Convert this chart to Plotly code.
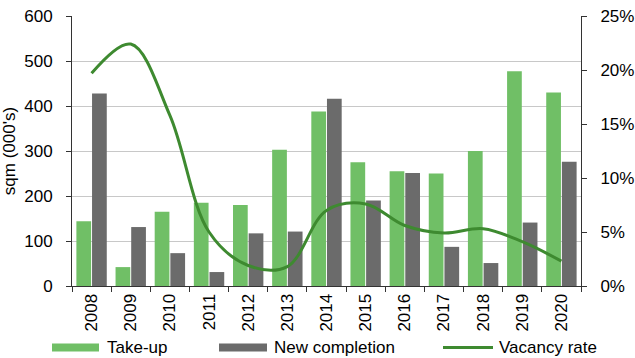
import plotly.graph_objects as go

years = ["2008", "2009", "2010", "2011", "2012", "2013", "2014",
         "2015", "2016", "2017", "2018", "2019", "2020"]
take_up = [144, 42, 165, 185, 180, 303, 388, 275, 255, 250, 300, 477, 430]
new_completion = [428, 131, 73, 31, 117, 121, 416, 190, 251, 87, 51, 141, 276]
vacancy_rate = [0.197, 0.224, 0.158, 0.050, 0.019, 0.018, 0.070, 0.076,
                0.056, 0.049, 0.053, 0.041, 0.023]

GREEN_BAR = "#70BF66"
GREY_BAR = "#6B6B6B"
GREEN_LINE = "#3E8A30"
FONT = "Liberation Sans, Arial, sans-serif"

W, H = 635, 358
L, R, T, B = 72, 54, 16, 72
PW, PH = W - L - R, H - T - B


def px_x(px):
    return (px - L) / PW


def px_y(py):
    return (H - B - py) / PH


fig = go.Figure()

fig.add_trace(go.Bar(x=years, y=take_up, name="Take-up",
                     marker=dict(color=GREEN_BAR, line=dict(width=0))))
fig.add_trace(go.Bar(x=years, y=new_completion, name="New completion",
                     marker=dict(color=GREY_BAR, line=dict(width=0))))
fig.add_trace(go.Scatter(x=years, y=vacancy_rate, name="Vacancy rate",
                         yaxis="y2", mode="lines",
                         line=dict(color=GREEN_LINE, width=3,
                                   shape="spline", smoothing=1.0)))

# legend row beneath the axis: wide swatches followed by labels
legend_items = [
    ("Take-up", GREEN_BAR, "bar", 52, 99, 105),
    ("New completion", GREY_BAR, "bar", 219, 267, 272),
    ("Vacancy rate", GREEN_LINE, "line", 443, 493, 497),
]
ly = 347.5
for label, color, kind, x0, x1, tx in legend_items:
    if kind == "bar":
        fig.add_shape(type="rect", xref="paper", yref="paper",
                      x0=px_x(x0), x1=px_x(x1),
                      y0=px_y(ly + 4), y1=px_y(ly - 4),
                      fillcolor=color, line=dict(width=0))
    else:
        fig.add_shape(type="line", xref="paper", yref="paper",
                      x0=px_x(x0), x1=px_x(x1), y0=px_y(ly), y1=px_y(ly),
                      line=dict(color=color, width=3))
    fig.add_annotation(text=label, xref="paper", yref="paper",
                       x=px_x(tx), y=px_y(ly), xanchor="left",
                       yanchor="middle", showarrow=False,
                       font=dict(size=17, color="black"))

fig.update_layout(
    width=W, height=H,
    margin=dict(l=L, r=R, t=T, b=B),
    paper_bgcolor="white", plot_bgcolor="white",
    font=dict(family=FONT, size=17, color="black"),
    showlegend=False,
    barmode="group", bargap=0.2, bargroupgap=0.06,
    xaxis=dict(type="category", automargin=False, showline=True,
               linecolor="#333333", linewidth=1, ticks="outside",
               tickson="boundaries", ticklen=5, tickcolor="#333333",
               tickangle=-90, showgrid=False, tickfont=dict(size=17)),
    yaxis=dict(range=[0, 600], dtick=100, automargin=False, showline=True,
               linecolor="#333333", linewidth=1, ticks="outside",
               ticklen=5, tickcolor="#333333", ticklabelstandoff=10,
               showgrid=True, gridcolor="#C8C8C8", gridwidth=1,
               zeroline=False,
               title=dict(text="sqm (000's)", standoff=6,
                          font=dict(size=17))),
    yaxis2=dict(range=[0, 0.25], dtick=0.05, tickformat=".0%",
                automargin=False, overlaying="y", side="right",
                showline=True, linecolor="#333333", linewidth=1,
                ticks="outside", ticklen=5, tickcolor="#333333",
                ticklabelstandoff=10, showgrid=False, zeroline=False),
)

fig.write_html("out.html")
